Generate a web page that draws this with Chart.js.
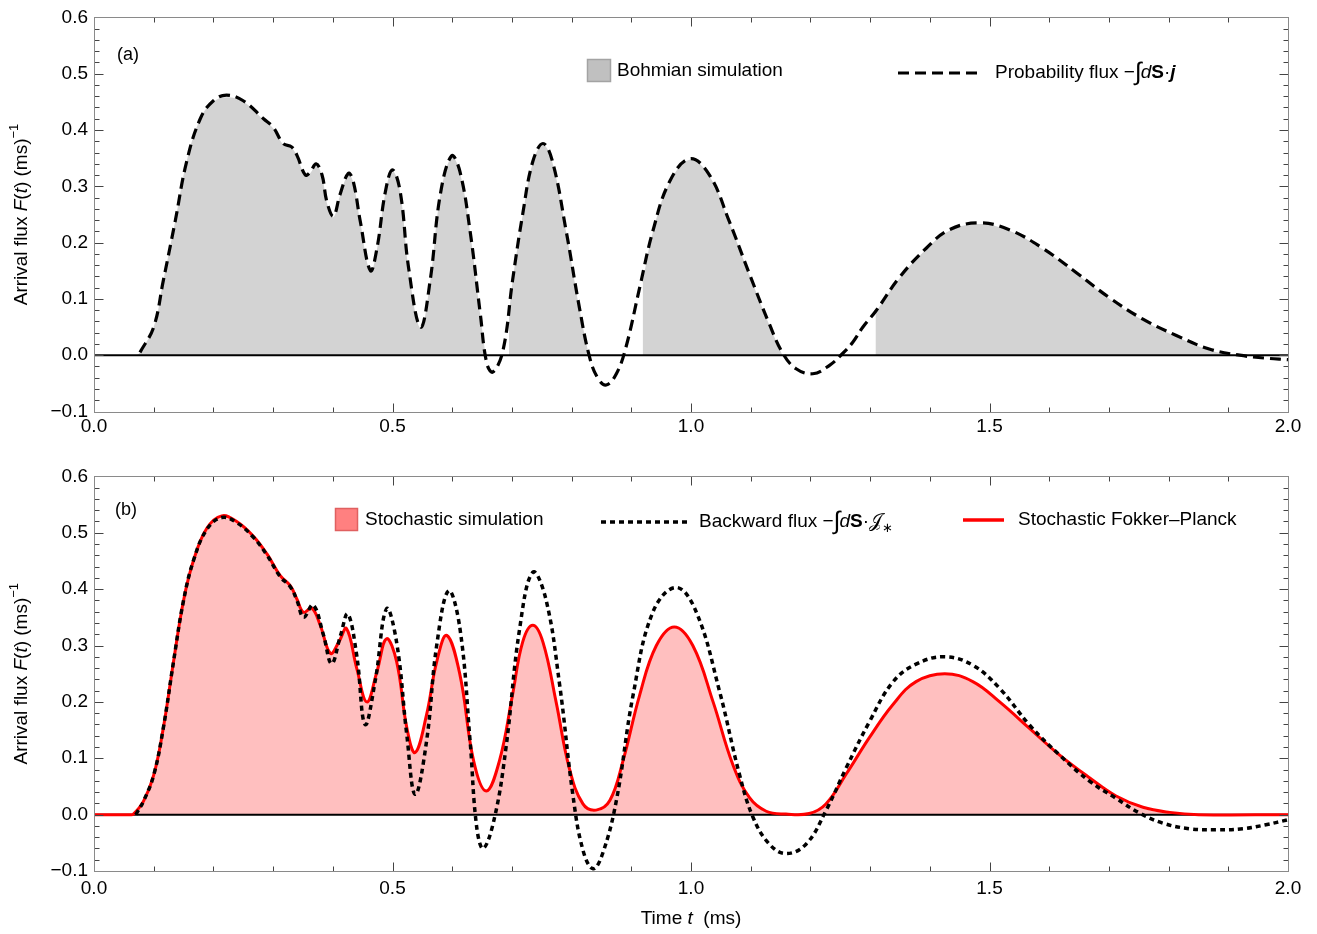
<!DOCTYPE html>
<html><head><meta charset="utf-8">
<script src="https://cdn.jsdelivr.net/npm/chart.js@4.4.1/dist/chart.umd.min.js"></script>
<style>
html,body{margin:0;padding:0;background:#fff;width:1317px;height:934px;overflow:hidden}
.wrap{position:absolute;left:0;width:1317px}
canvas{display:block}
</style></head><body>
<div class="wrap" style="top:0;height:459px"><canvas id="ca" width="1317" height="459"></canvas></div>
<div class="wrap" style="top:459px;height:475px"><canvas id="cb" width="1317" height="475"></canvas></div>
<script>
// ---------- axes ----------
const xRange = [0, 2];
const yRange = [-0.1, 0.6];
const xMajorStep = 0.5, yMajorStep = 0.1;

// ---------- panel (a) ----------
// Probability flux  -∫dS·j   [t (ms), F]
const probFluxA = [[0.077,0.005],[0.1,0.05],[0.116,0.132],[0.136,0.238],[0.155,0.343],[0.178,0.42],[0.2,0.452],[0.222,0.462],[0.25,0.452],[0.284,0.42],[0.3,0.405],[0.317,0.376],[0.331,0.37],[0.34,0.355],[0.354,0.32],[0.362,0.325],[0.372,0.34],[0.382,0.32],[0.39,0.273],[0.401,0.247],[0.412,0.285],[0.426,0.323],[0.434,0.31],[0.446,0.238],[0.463,0.15],[0.474,0.19],[0.488,0.29],[0.5,0.329],[0.513,0.29],[0.527,0.155],[0.547,0.05],[0.563,0.132],[0.58,0.285],[0.599,0.354],[0.613,0.326],[0.63,0.22],[0.647,0.074],[0.658,-0.015],[0.668,-0.03],[0.685,0.008],[0.701,0.132],[0.718,0.25],[0.735,0.344],[0.752,0.376],[0.768,0.344],[0.791,0.22],[0.813,0.085],[0.83,-0.003],[0.844,-0.041],[0.858,-0.053],[0.875,-0.033],[0.891,0.014],[0.914,0.12],[0.936,0.22],[0.964,0.308],[0.998,0.349],[1.031,0.32],[1.064,0.238],[1.098,0.144],[1.131,0.056],[1.154,0.003],[1.176,-0.024],[1.204,-0.033],[1.232,-0.018],[1.254,0.003],[1.271,0.023],[1.288,0.05],[1.31,0.079],[1.349,0.138],[1.394,0.19],[1.433,0.223],[1.483,0.235],[1.533,0.223],[1.589,0.19],[1.645,0.147],[1.701,0.102],[1.757,0.064],[1.813,0.035],[1.868,0.011],[1.919,0],[1.96,-0.005],[2.0,-0.008]];
// Bohmian simulation histogram (null = no arrivals)
const bohmianA = [[0.072,0],[0.077,0.005],[0.1,0.05],[0.116,0.132],[0.136,0.238],[0.155,0.343],[0.178,0.42],[0.2,0.45],[0.222,0.458],[0.25,0.45],[0.284,0.418],[0.3,0.403],[0.317,0.374],[0.331,0.368],[0.34,0.353],[0.354,0.318],[0.362,0.323],[0.372,0.338],[0.382,0.318],[0.39,0.271],[0.401,0.245],[0.412,0.283],[0.426,0.321],[0.434,0.308],[0.446,0.236],[0.463,0.148],[0.474,0.188],[0.488,0.288],[0.5,0.327],[0.513,0.288],[0.527,0.153],[0.547,0.048],[0.563,0.13],[0.58,0.283],[0.599,0.352],[0.613,0.324],[0.63,0.218],[0.647,0.072],[0.656,0],
  [0.675,null],
  [0.695,0.07],[0.701,0.13],[0.718,0.248],[0.735,0.342],[0.752,0.374],[0.768,0.342],[0.791,0.218],[0.813,0.083],[0.829,0],
  [0.87,null],
  [0.919,0.13],[0.936,0.218],[0.964,0.306],[0.998,0.347],[1.031,0.318],[1.064,0.236],[1.098,0.142],[1.131,0.054],[1.153,0],
  [1.23,null],
  [1.309,0.076],[1.349,0.136],[1.394,0.188],[1.433,0.221],[1.483,0.233],[1.533,0.221],[1.589,0.188],[1.645,0.145],[1.701,0.1],[1.757,0.062],[1.813,0.033],[1.868,0.009],[1.915,0]];

// ---------- panel (b) ----------
// Stochastic Fokker-Planck
const fokkerB = [[0,0],[0.06,0],[0.066,0.001],[0.083,0.024],[0.1,0.07],[0.116,0.153],[0.133,0.27],[0.15,0.38],[0.167,0.452],[0.189,0.508],[0.214,0.53],[0.239,0.52],[0.267,0.494],[0.29,0.462],[0.312,0.424],[0.329,0.406],[0.34,0.382],[0.351,0.359],[0.365,0.366],[0.379,0.336],[0.396,0.286],[0.41,0.306],[0.423,0.33],[0.44,0.26],[0.457,0.2],[0.474,0.254],[0.49,0.312],[0.507,0.271],[0.524,0.154],[0.538,0.11],[0.557,0.177],[0.574,0.271],[0.591,0.318],[0.613,0.248],[0.636,0.095],[0.657,0.042],[0.679,0.095],[0.701,0.212],[0.718,0.306],[0.735,0.336],[0.752,0.306],[0.774,0.2],[0.796,0.083],[0.819,0.019],[0.841,0.008],[0.864,0.025],[0.886,0.095],[0.914,0.212],[0.942,0.3],[0.972,0.333],[1.003,0.3],[1.037,0.2],[1.07,0.089],[1.098,0.03],[1.126,0.006],[1.159,0.001],[1.198,0.002],[1.226,0.019],[1.26,0.072],[1.299,0.137],[1.338,0.195],[1.377,0.236],[1.425,0.25],[1.472,0.236],[1.517,0.2],[1.567,0.153],[1.617,0.106],[1.668,0.065],[1.712,0.033],[1.757,0.013],[1.802,0.004],[1.85,0],[2.0,0]];
// Backward flux  -∫dS·J*
const backwardB = [[0.07,0],[0.083,0.024],[0.1,0.07],[0.116,0.153],[0.133,0.27],[0.15,0.38],[0.167,0.452],[0.189,0.506],[0.214,0.527],[0.239,0.518],[0.267,0.492],[0.29,0.46],[0.312,0.422],[0.329,0.404],[0.34,0.38],[0.351,0.35],[0.367,0.372],[0.384,0.32],[0.398,0.268],[0.413,0.318],[0.425,0.356],[0.44,0.283],[0.454,0.16],[0.471,0.237],[0.49,0.365],[0.507,0.305],[0.524,0.141],[0.538,0.036],[0.557,0.13],[0.574,0.3],[0.594,0.397],[0.613,0.33],[0.63,0.13],[0.641,-0.022],[0.652,-0.06],[0.671,-0.005],[0.69,0.118],[0.713,0.33],[0.735,0.43],[0.757,0.382],[0.78,0.23],[0.802,0.036],[0.819,-0.063],[0.836,-0.096],[0.852,-0.069],[0.875,0.025],[0.903,0.212],[0.936,0.359],[0.975,0.403],[1.009,0.359],[1.048,0.218],[1.081,0.072],[1.104,-0.005],[1.131,-0.052],[1.159,-0.069],[1.193,-0.052],[1.226,0.007],[1.26,0.083],[1.299,0.165],[1.338,0.235],[1.377,0.267],[1.425,0.28],[1.472,0.265],[1.517,0.224],[1.567,0.159],[1.617,0.106],[1.668,0.059],[1.712,0.029],[1.751,0.003],[1.79,-0.015],[1.835,-0.025],[1.88,-0.027],[1.924,-0.025],[1.963,-0.018],[2.0,-0.009]];
// Stochastic simulation histogram
const stochSimB = [[0.066,0],[0.083,0.022],[0.1,0.068],[0.116,0.151],[0.133,0.268],[0.15,0.378],[0.167,0.45],[0.189,0.505],[0.214,0.526],[0.239,0.517],[0.267,0.492],[0.29,0.46],[0.312,0.422],[0.329,0.404],[0.34,0.38],[0.351,0.357],[0.365,0.364],[0.379,0.334],[0.396,0.284],[0.41,0.304],[0.423,0.328],[0.44,0.258],[0.457,0.198],[0.474,0.252],[0.49,0.31],[0.507,0.269],[0.524,0.152],[0.538,0.108],[0.557,0.175],[0.574,0.269],[0.591,0.316],[0.613,0.246],[0.636,0.093],[0.657,0.04],[0.679,0.093],[0.701,0.21],[0.718,0.304],[0.735,0.334],[0.752,0.304],[0.774,0.198],[0.796,0.081],[0.819,0.017],[0.841,0.006],[0.864,0.023],[0.886,0.093],[0.914,0.21],[0.942,0.298],[0.972,0.331],[1.003,0.298],[1.037,0.198],[1.07,0.087],[1.098,0.028],[1.126,0.004],[1.159,0],[1.198,0],[1.226,0.017],[1.26,0.07],[1.299,0.135],[1.338,0.193],[1.377,0.234],[1.425,0.248],[1.472,0.234],[1.517,0.198],[1.567,0.151],[1.617,0.104],[1.668,0.063],[1.712,0.031],[1.757,0.011],[1.802,0.002],[1.85,0]];

// ---------- helpers ----------
const FAM = '"Liberation Sans", Arial, sans-serif';
Chart.defaults.font.family = FAM;
Chart.defaults.color = '#000';
const SMOOTH = 0.4;
const pts = arr => arr.map(p => ({x: p[0], y: p[1]}));
const fmt = v => { const r = Math.round(v * 10) / 10; return (r < 0 ? '\u2212' : '') + Math.abs(r).toFixed(1); };

function rich(ctx, parts, x, y, align, size) {
  const fontOf = p => {
    const s = p.s || ((p.sup || p.sub) ? Math.round(size * 0.68) : size);
    return (p.i ? 'italic ' : '') + (p.b ? 'bold ' : '') + s + 'px ' + (p.f || FAM);
  };
  let w = 0;
  for (const p of parts) { ctx.font = fontOf(p); p.w = ctx.measureText(p.t).width + (p.gap || 0); w += p.w; }
  let cx = align === 'center' ? x - w / 2 : x;
  ctx.textBaseline = 'middle'; ctx.textAlign = 'left'; ctx.fillStyle = '#000';
  for (const p of parts) {
    ctx.font = fontOf(p);
    const dy = p.sup ? -size * 0.42 : (p.sub ? size * 0.32 : 0);
    ctx.fillText(p.t, cx, y + dy + (p.dy || 0));
    cx += p.w;
  }
}

const framePlugin = {
  id: 'frameTicks',
  afterDatasetsDraw(chart) {
    const ctx = chart.ctx, a = chart.chartArea, xs = chart.scales.x, ys = chart.scales.y;
    ctx.save();
    const L = Math.round(a.left) + 0.5, R = Math.round(a.right) + 0.5, T = Math.round(a.top) + 0.5, B = Math.round(a.bottom) + 0.5;
    ctx.strokeStyle = '#444'; ctx.lineWidth = 1; ctx.setLineDash([]);
    ctx.beginPath();
    const nx = Math.round((xRange[1] - xRange[0]) / 0.1);
    for (let i = 0; i <= nx; i++) {
      const v = xRange[0] + i * 0.1;
      const px = Math.round(xs.getPixelForValue(v)) + 0.5;
      const len = (i % 5 === 0) ? 9 : 5;
      ctx.moveTo(px, B); ctx.lineTo(px, B - len);
      ctx.moveTo(px, T); ctx.lineTo(px, T + len);
    }
    const ny = Math.round((yRange[1] - yRange[0]) / 0.02);
    for (let i = 0; i <= ny; i++) {
      const v = yRange[0] + i * 0.02;
      const py = Math.round(ys.getPixelForValue(v)) + 0.5;
      const len = (i % 5 === 0) ? 9 : 5;
      ctx.moveTo(L, py); ctx.lineTo(L + len, py);
      ctx.moveTo(R, py); ctx.lineTo(R - len, py);
    }
    ctx.stroke();
    ctx.strokeStyle = '#8a8a8a';
    ctx.strokeRect(L, T, R - L, B - T);
    ctx.restore();
  }
};

function yTitle(ctx, cx, cy) {
  ctx.save();
  ctx.translate(cx, cy); ctx.rotate(-Math.PI / 2);
  rich(ctx, [{t: 'Arrival flux '}, {t: 'F', i: 1}, {t: '('}, {t: 't', i: 1}, {t: ') (ms)'}, {t: '\u22121', sup: 1}], 0, 0, 'center', 19);
  ctx.restore();
}

function scalesCfg(xAxisHeight, xPad) {
  return {
    x: {type: 'linear', min: xRange[0], max: xRange[1],
        ticks: {stepSize: xMajorStep, callback: v => fmt(v), padding: xPad, maxRotation: 0, font: {size: 19}, color: '#000'},
        grid: {display: false, drawTicks: false}, border: {display: false},
        afterFit: s => { s.height = xAxisHeight; }},
    y: {type: 'linear', min: yRange[0], max: yRange[1],
        ticks: {stepSize: yMajorStep, callback: v => fmt(v), padding: 6, font: {size: 19}, color: '#000'},
        grid: {display: false, drawTicks: false}, border: {display: false},
        afterFit: s => { s.width = 94; }}
  };
}

const zeroLine = () => ({data: [{x: xRange[0], y: 0}, {x: xRange[1], y: 0}], borderColor: '#000', borderWidth: 2, pointRadius: 0, fill: false, order: 2, tension: 0});

// ---------- chart (a) ----------
new Chart(document.getElementById('ca'), {
  type: 'line',
  data: {datasets: [
    {data: pts(probFluxA), borderColor: '#000', borderWidth: 3.2, borderDash: [11, 6], pointRadius: 0, fill: false, tension: SMOOTH, order: 0},
    zeroLine(),
    {data: pts(bohmianA), borderColor: 'rgba(0,0,0,0)', borderWidth: 1, backgroundColor: '#d3d3d3', pointRadius: 0, fill: 'origin', spanGaps: false, tension: SMOOTH, order: 3}
  ]},
  options: {
    responsive: false, animation: false, devicePixelRatio: 1,
    layout: {padding: {top: 14.5, right: 29, left: 0, bottom: 0}},
    plugins: {legend: {display: false}, tooltip: {enabled: false}},
    scales: scalesCfg(47.5, 4)
  },
  plugins: [framePlugin, {
    id: 'textA',
    afterDraw(chart) {
      const ctx = chart.ctx; ctx.save();
      rich(ctx, [{t: '(a)'}], 117, 55, 'left', 18);
      yTitle(ctx, 22, (chart.chartArea.top + chart.chartArea.bottom) / 2);
      ctx.fillStyle = '#c0c0c0'; ctx.fillRect(587, 59, 24, 23);
      ctx.strokeStyle = '#a3a3a3'; ctx.lineWidth = 1.5; ctx.strokeRect(587.5, 59.5, 23, 22);
      rich(ctx, [{t: 'Bohmian simulation'}], 617, 71, 'left', 19);
      ctx.strokeStyle = '#000'; ctx.lineWidth = 3.2; ctx.setLineDash([11, 6]);
      ctx.beginPath(); ctx.moveTo(898, 73); ctx.lineTo(983, 73); ctx.stroke(); ctx.setLineDash([]);
      rich(ctx, [{t: 'Probability flux '}, {t: '\u2212'}, {t: '\u222B', s: 25, gap: -1}, {t: 'd', i: 1}, {t: 'S', b: 1}, {t: '\u00B7'}, {t: 'j', b: 1, i: 1}], 995, 73, 'left', 19);
      ctx.restore();
    }
  }]
});

// ---------- chart (b) ----------
new Chart(document.getElementById('cb'), {
  type: 'line',
  data: {datasets: [
    {data: pts(backwardB), borderColor: '#000', borderWidth: 3.5, borderDash: [5, 4], pointRadius: 0, fill: false, tension: SMOOTH, order: 0},
    {data: pts(fokkerB), borderColor: '#ff0000', borderWidth: 3, pointRadius: 0, fill: false, tension: SMOOTH, order: 1},
    zeroLine(),
    {data: pts(stochSimB), borderColor: 'rgba(0,0,0,0)', borderWidth: 1, backgroundColor: '#ffbfbf', pointRadius: 0, fill: 'origin', tension: SMOOTH, order: 3}
  ]},
  options: {
    responsive: false, animation: false, devicePixelRatio: 1,
    layout: {padding: {top: 14.3, right: 29, left: 0, bottom: 0}},
    plugins: {legend: {display: false}, tooltip: {enabled: false}},
    scales: scalesCfg(63, 6)
  },
  plugins: [framePlugin, {
    id: 'textB',
    afterDraw(chart) {
      const ctx = chart.ctx; ctx.save();
      const off = 459;
      rich(ctx, [{t: '(b)'}], 115, 510 - off, 'left', 18);
      yTitle(ctx, 22, (chart.chartArea.top + chart.chartArea.bottom) / 2);
      ctx.fillStyle = '#ff8080'; ctx.fillRect(335, 508 - off, 23, 23);
      ctx.strokeStyle = '#e06060'; ctx.lineWidth = 1.5; ctx.strokeRect(335.5, 508.5 - off, 22, 22);
      rich(ctx, [{t: 'Stochastic simulation'}], 365, 520 - off, 'left', 19);
      ctx.strokeStyle = '#000'; ctx.lineWidth = 3.5; ctx.setLineDash([5, 4]);
      ctx.beginPath(); ctx.moveTo(601, 522 - off); ctx.lineTo(687, 522 - off); ctx.stroke(); ctx.setLineDash([]);
      rich(ctx, [{t: 'Backward flux '}, {t: '\u2212'}, {t: '\u222B', s: 25, gap: -1}, {t: 'd', i: 1}, {t: 'S', b: 1}, {t: '\u00B7'}, {t: '\uD835\uDCA5', f: '"DejaVu Sans", "Noto Sans", serif'}, {t: '\u2217', sub: 1}], 699, 522 - off, 'left', 19);
      ctx.strokeStyle = '#ff0000'; ctx.lineWidth = 3.5;
      ctx.beginPath(); ctx.moveTo(963, 520 - off); ctx.lineTo(1004, 520 - off); ctx.stroke();
      rich(ctx, [{t: 'Stochastic Fokker\u2013Planck'}], 1018, 520 - off, 'left', 19);
      rich(ctx, [{t: 'Time '}, {t: 't', i: 1}, {t: '  (ms)'}], 691, 919 - off, 'center', 19);
      ctx.restore();
    }
  }]
});
</script>
</body></html>
